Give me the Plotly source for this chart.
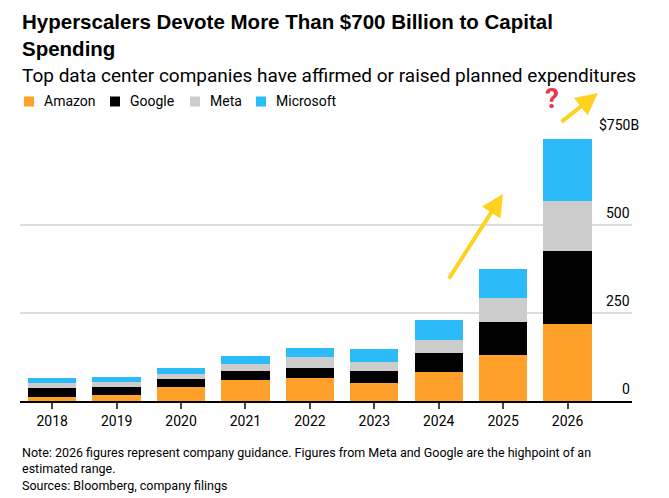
import plotly.graph_objects as go

# capex by company, $B
years = ['2018', '2019', '2020', '2021', '2022', '2023', '2024', '2025', '2026']
companies = ['Amazon', 'Google', 'Meta', 'Microsoft']
amazon = [12, 16, 39, 61, 64, 52, 83, 132, 220]
google = [26, 24, 23, 24, 31, 32, 53, 92, 205]
meta = [14, 15, 15, 19, 31, 28, 38, 70, 144]
microsoft = [14, 13, 18, 25, 25, 35, 55, 82, 174]
y_ticks = [0, 250, 500, 750]
y_tick_text = ['0', '250', '500', '$750B']

colors = ['#FFA02B', '#000000', '#CCCCCC', '#2BBBF8']
series = [amazon, google, meta, microsoft]

W, H = 669, 498
L, R, T, B = 20, 37, 137, 97
FONT = 'Roboto'
TITLE_FONT = 'Liberation Sans'

# pixel -> paper helpers for the text outside the plot area
def px_x(x):
  return (x - L) / (W - L - R)

def px_y(y):
  return (H - B - y) / (H - T - B)

fig = go.Figure()
for name, vals, col in zip(companies, series, colors):
  fig.add_trace(go.Bar(
    x=years,
    y=vals,
    name=name,
    marker=dict(color=col, line=dict(width=0)),
    showlegend=False))

fig.update_layout(
  barmode='stack',
  bargap=0.25,
  width=W, height=H,
  margin=dict(l=L, r=R, t=T, b=B),
  plot_bgcolor='#FFFFFF',
  paper_bgcolor='#FFFFFF',
  font=dict(family=FONT, color='#000000'),
)

fig.update_xaxes(
  type='category',
  range=[-0.5, 9.0],
  showgrid=False,
  showline=True, linecolor='#000000', linewidth=1.5,
  ticks='outside', ticklen=6, tickwidth=1.5, tickcolor='#444444',
  tickfont=dict(size=14, family=FONT),
  fixedrange=True)

fig.update_yaxes(
  range=[0, 750],
  tickvals=y_ticks,
  showticklabels=False,
  showgrid=True, gridcolor='#DDDDDD', gridwidth=1.5,
  zeroline=False,
  showline=False,
  ticks='',
  fixedrange=True)

annos = []
# y tick labels sit just above their gridlines, right aligned (the B unit hangs past the edge)
for v, t in zip(y_ticks, y_tick_text):
  annos.append(dict(
    text=t, x=1, y=v, xref='paper', yref='y',
    xanchor='right', yanchor='bottom', yshift=2,
    xshift=9 if t.endswith('B') else 0, showarrow=False,
    font=dict(size=14, family=FONT, color='#000000')))

# title + subtitle
annos.append(dict(
  text='<b>Hyperscalers Devote More Than $700 Billion to Capital<br>Spending</b>',
  x=px_x(20), y=px_y(34.5), xref='paper', yref='paper',
  xanchor='left', yanchor='middle', align='left', showarrow=False,
  font=dict(size=20.5, family=TITLE_FONT, color='#000000')))
annos.append(dict(
  text='Top data center companies have affirmed or raised planned expenditures',
  x=px_x(20), y=px_y(75), xref='paper', yref='paper',
  xanchor='left', yanchor='middle', align='left', showarrow=False,
  font=dict(size=19, family=FONT, color='#000000')))

# legend drawn by hand so spacing matches
swatch_x = [24, 110, 190, 256]
shapes = []
for sx, name, col in zip(swatch_x, companies, colors):
  shapes.append(dict(
    type='rect', xref='paper', yref='paper',
    x0=px_x(sx), x1=px_x(sx + 10), y0=px_y(106.5), y1=px_y(96.5),
    fillcolor=col, line=dict(width=0)))
  annos.append(dict(
    text=name, x=px_x(sx + 18), y=px_y(100.5), xref='paper', yref='paper',
    xanchor='left', yanchor='middle', showarrow=False,
    font=dict(size=14, family=FONT, color='#000000')))

# arrows + question mark
annos.append(dict(
  x=px_x(503), y=px_y(194), xref='paper', yref='paper',
  ax=-55, ay=86, text='', showarrow=True,
  arrowhead=2, arrowsize=1.1, arrowwidth=4, arrowcolor='#FFD21F'))
annos.append(dict(
  x=px_x(598), y=px_y(93), xref='paper', yref='paper',
  ax=-38, ay=30, text='', showarrow=True,
  arrowhead=2, arrowsize=1.1, arrowwidth=4, arrowcolor='#FFD21F'))
annos.append(dict(
  text='<b>?</b>', x=px_x(552), y=px_y(99), xref='paper', yref='paper',
  xanchor='center', yanchor='middle', showarrow=False,
  font=dict(size=28, family=FONT, color='#E8364F')))

# footnote
annos.append(dict(
  text='Note: 2026 figures represent company guidance. Figures from Meta and Google are the highpoint of an<br>'
       'estimated range.<br>Sources: Bloomberg, company filings',
  x=px_x(20), y=px_y(468.5), xref='paper', yref='paper',
  xanchor='left', yanchor='middle', align='left', showarrow=False,
  font=dict(size=12.5, family=FONT, color='#000000')))

fig.update_layout(annotations=annos, shapes=shapes)

fig.write_html('out.html', config={'displayModeBar': False},
               post_script="document.body.style.margin='0px';")
